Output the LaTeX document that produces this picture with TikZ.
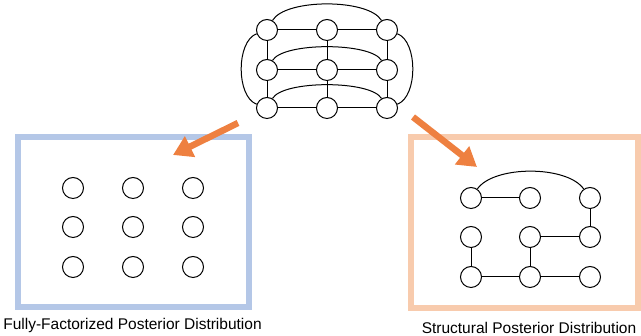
\documentclass[tikz,border=0pt]{standalone}
\usepackage{fontspec}
\setmainfont{Liberation Sans}
\usetikzlibrary{arrows.meta, positioning}
\definecolor{boxblue}{HTML}{B4C7E7}
\definecolor{boxpeach}{HTML}{F8CBAD}
\definecolor{arrorange}{HTML}{EE8040}

\begin{document}
\begin{tikzpicture}[
    x=1pt, y=1pt,
    var/.style={circle, draw=black, line width=1pt, fill=white, minimum size=21pt, inner sep=0pt},
    link/.style={draw=black, line width=1pt},
    panel/.style={line width=6.5pt},
    flow/.style={draw=arrorange, line width=6.5pt, -{Triangle[length=19pt,width=22pt]}},
    caption/.style={font=\fontsize{15.5}{18}\selectfont, anchor=base}
]
\useasboundingbox (0,0) rectangle (641,336);

% Full grid model
\foreach \r/\y in {1/306,2/266,3/228}
  \foreach \c/\x in {1/267,2/327,3/387}
    \node[var] (t\r\c) at (\x,\y) {};
\foreach \r in {1,2,3}
  \draw[link] (t\r1) -- (t\r2) (t\r2) -- (t\r3);
\foreach \c in {1,2,3}
  \draw[link] (t1\c) -- (t2\c) (t2\c) -- (t3\c);
\draw[link] (t11) to[out=60,in=120,looseness=0.6] (t13);
\draw[link] (t21) to[out=60,in=120,looseness=0.5] (t23);
\draw[link] (t31) to[out=60,in=120,looseness=0.5] (t33);
\draw[link] (t11) to[out=200,in=160,looseness=0.8] (t31);
\draw[link] (t13) to[out=-20,in=20,looseness=0.8] (t33);

% Fully factorized
\draw[panel, draw=boxblue] (18,29) rectangle (249,199);
\foreach \r/\y in {1/148,2/109,3/69}
  \foreach \c/\x in {1/73,2/133,3/193}
    \node[var] (f\r\c) at (\x,\y) {};

% Structural
\draw[panel, draw=boxpeach] (411,28) rectangle (638,199);
\foreach \r/\y in {1/138,2/99,3/59}
  \foreach \c/\x in {1/471,2/530,3/590}
    \node[var] (s\r\c) at (\x,\y) {};
\draw[link] (s11) -- (s12);
\draw[link] (s11) to[out=55,in=125,looseness=0.7] (s13);
\draw[link] (s13) -- (s23);
\draw[link] (s22) -- (s23);
\draw[link] (s22) -- (s32);
\draw[link] (s21) -- (s31);
\draw[link] (s31) -- (s32) (s32) -- (s33);

% Arrows
\coordinate (la0) at (238,213);
\coordinate (la1) at (173,181);
\coordinate (ra0) at (413,219);
\coordinate (ra1) at (477,169);
\draw[flow] (la0) -- (la1);
\draw[flow] (ra0) -- (ra1);

% Captions
\node[caption] (lcap) at (132.5,6) {Fully-Factorized Posterior Distribution};
\node[caption] (rcap) at (529,2) {Structural Posterior Distribution};

\end{tikzpicture}
\end{document}
